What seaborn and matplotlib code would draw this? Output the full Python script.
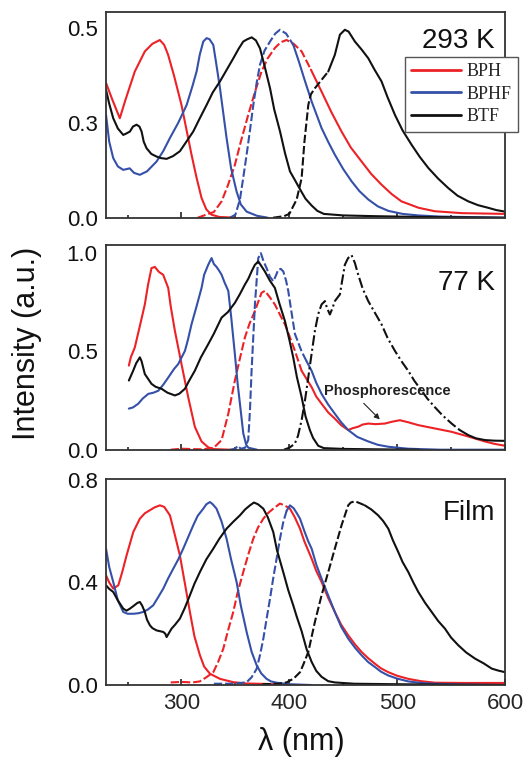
import numpy as np
import pandas as pd
import matplotlib
matplotlib.use("Agg")
import matplotlib.pyplot as plt
from matplotlib.lines import Line2D
import seaborn as sns

# ---------------- data (wavelength nm, intensity a.u.) ----------------
# 293 K
red_abs_293_x = [230, 236, 242.8, 248, 256.7, 266, 273, 279.9, 284, 287.6, 293, 300, 309.3, 314, 318.6, 323, 327.8, 335, 350]
red_abs_293_y = [0.355, 0.31, 0.262, 0.31, 0.385, 0.438, 0.458, 0.468, 0.455, 0.429, 0.375, 0.297, 0.166, 0.105, 0.052, 0.022, 0.008, 0.002, 0.0]
red_em_293_x = [315, 330, 337.2, 343, 349.5, 355, 361.9, 368, 374.2, 380, 386.6, 392, 397.4, 404, 411.4, 420, 429.9, 439, 448.4, 457, 467, 476, 485.5, 495, 504, 520, 535, 560, 600]
red_em_293_y = [0.0, 0.015, 0.043, 0.085, 0.139, 0.2, 0.271, 0.33, 0.385, 0.42, 0.447, 0.462, 0.468, 0.458, 0.438, 0.39, 0.332, 0.278, 0.227, 0.185, 0.148, 0.115, 0.087, 0.062, 0.043, 0.026, 0.017, 0.012, 0.01]
blue_abs_293_x = [230, 233, 236.7, 241, 246, 252, 256, 261.4, 268, 276.9, 283, 289.3, 297, 304.8, 310, 314, 317, 320.2, 323.3, 326, 329.5, 332, 335.7, 341.8, 346, 351.1, 355, 360.4, 370, 380]
blue_abs_293_y = [0.271, 0.2, 0.157, 0.135, 0.126, 0.13, 0.118, 0.113, 0.122, 0.148, 0.175, 0.21, 0.25, 0.297, 0.345, 0.385, 0.43, 0.464, 0.473, 0.47, 0.455, 0.41, 0.341, 0.21, 0.13, 0.069, 0.035, 0.016, 0.005, 0.0]
blue_em_293_x = [345, 350, 354.2, 357, 360.4, 363.5, 366.6, 369.7, 372.8, 377, 382.1, 387, 391.3, 397, 403.7, 409, 414.5, 420.7, 429.9, 436, 442.2, 450, 457.7, 465, 473.2, 482, 491.8, 505, 519.6, 540, 600]
blue_em_293_y = [0.0, 0.008, 0.048, 0.1, 0.166, 0.23, 0.297, 0.355, 0.403, 0.44, 0.464, 0.485, 0.495, 0.485, 0.455, 0.41, 0.36, 0.306, 0.236, 0.2, 0.166, 0.128, 0.096, 0.07, 0.048, 0.03, 0.018, 0.01, 0.006, 0.003, 0.0]
black_abs_293_x = [230, 233, 236.7, 241, 246, 249, 252.2, 255, 258.3, 261, 263, 265, 267.6, 272, 276.9, 281, 286.2, 292, 298.5, 304, 310.9, 317, 323.3, 329, 335.7, 342, 348.1, 353, 357.3, 361, 365.1, 369, 372.8, 377, 382.1, 386, 391.4, 396, 400.6, 405, 409.9, 415, 420.7, 426, 432, 450, 480, 520, 600]
black_abs_293_y = [0.337, 0.3, 0.262, 0.235, 0.218, 0.222, 0.227, 0.24, 0.245, 0.24, 0.227, 0.2, 0.183, 0.168, 0.161, 0.157, 0.155, 0.162, 0.175, 0.198, 0.227, 0.262, 0.297, 0.33, 0.359, 0.39, 0.42, 0.445, 0.464, 0.47, 0.475, 0.467, 0.446, 0.4, 0.341, 0.285, 0.227, 0.17, 0.122, 0.1, 0.075, 0.05, 0.032, 0.018, 0.01, 0.006, 0.004, 0.002, 0.0]
black_em_293_x = [385, 395, 400, 406.8, 411.4, 414, 417.6, 420, 423.7, 429.9, 436.1, 442.2, 446.9, 451.5, 455, 460.8, 467, 473.2, 479, 485.5, 491, 497.9, 505, 513.4, 521, 528.9, 538, 547.4, 556, 566, 575, 584.5, 592, 600]
black_em_293_y = [0.0, 0.004, 0.01, 0.048, 0.104, 0.2, 0.297, 0.325, 0.341, 0.363, 0.385, 0.429, 0.482, 0.495, 0.49, 0.464, 0.443, 0.42, 0.39, 0.359, 0.318, 0.271, 0.23, 0.192, 0.16, 0.131, 0.103, 0.078, 0.058, 0.043, 0.033, 0.026, 0.02, 0.016]

# 77 K
red_abs_77_x = [251.2, 253, 256.7, 261, 266, 269, 272.2, 275.3, 279, 283, 287.7, 290, 293.9, 300, 306.2, 312.4, 318.6, 324.8, 330, 345]
red_abs_77_y = [0.428, 0.47, 0.52, 0.62, 0.739, 0.84, 0.924, 0.93, 0.905, 0.89, 0.823, 0.73, 0.604, 0.436, 0.268, 0.116, 0.042, 0.012, 0.003, 0.0]
red_em_77_x = [290, 300, 310, 320, 330, 337.2, 343.4, 349.5, 354, 358.8, 363, 368.1, 374.2, 377.3, 382, 386.6, 391, 395.9, 400, 405.2, 411.4, 416, 420.7, 425, 429.9, 436, 442.2, 448, 454.6, 459, 463.9, 468, 473.2, 480, 488.6, 495, 502.5, 510, 519.6, 535, 550.5, 566, 581.4, 590, 600]
red_em_77_y = [0.0, 0.005, 0.003, 0.002, 0.01, 0.049, 0.183, 0.352, 0.46, 0.571, 0.64, 0.706, 0.798, 0.808, 0.775, 0.739, 0.69, 0.638, 0.58, 0.503, 0.401, 0.36, 0.318, 0.27, 0.234, 0.19, 0.158, 0.125, 0.1, 0.11, 0.117, 0.128, 0.133, 0.13, 0.133, 0.142, 0.15, 0.14, 0.125, 0.108, 0.091, 0.067, 0.042, 0.03, 0.02]
blue_abs_77_x = [251.2, 255, 259.9, 264, 269.2, 274, 278.5, 283, 287.7, 293, 297, 303.2, 306, 309.3, 314, 318.6, 321, 324.8, 327.9, 330, 332.5, 335, 337.2, 340, 343.4, 346, 349.5, 352, 354.2, 357.3, 360, 362, 370]
blue_abs_77_y = [0.209, 0.215, 0.234, 0.26, 0.284, 0.29, 0.3, 0.33, 0.367, 0.41, 0.436, 0.503, 0.56, 0.638, 0.73, 0.823, 0.89, 0.941, 0.975, 0.945, 0.93, 0.91, 0.89, 0.85, 0.808, 0.68, 0.487, 0.34, 0.234, 0.083, 0.025, 0.01, 0.0]
blue_em_77_x = [345, 350, 352, 355, 359, 361.9, 363.5, 365, 368.1, 371.2, 373.6, 376, 378.9, 382, 385.1, 387.5, 389.7, 392, 394.4, 397, 399, 402, 405.2, 411.4, 416, 420.7, 425, 429.9, 436, 442.2, 448, 454.6, 463, 473.2, 482, 491.8, 510, 540, 600]
blue_em_77_y = [0.0, 0.005, 0.02, 0.005, 0.01, 0.05, 0.2, 0.402, 0.739, 0.975, 1.0, 0.96, 0.924, 0.88, 0.857, 0.885, 0.916, 0.92, 0.907, 0.86, 0.808, 0.7, 0.589, 0.5, 0.45, 0.401, 0.34, 0.284, 0.23, 0.183, 0.14, 0.1, 0.065, 0.042, 0.025, 0.015, 0.005, 0.0, 0.0]
black_abs_77_x = [251.2, 255.2, 258, 261.4, 263, 266, 272.2, 276, 281.5, 287, 293.9, 298, 303.2, 307, 312.4, 318, 324.8, 330, 337.2, 343, 349.5, 354, 358.8, 362, 365, 368, 371.2, 374, 377.3, 382, 386.6, 391, 395.9, 400, 403.6, 407, 411.4, 415, 419.1, 422, 426.8, 432, 450, 480, 520]
black_abs_77_y = [0.352, 0.402, 0.44, 0.47, 0.45, 0.385, 0.335, 0.32, 0.31, 0.29, 0.276, 0.285, 0.31, 0.35, 0.402, 0.47, 0.537, 0.59, 0.672, 0.7, 0.747, 0.79, 0.84, 0.87, 0.907, 0.94, 0.958, 0.935, 0.907, 0.86, 0.823, 0.74, 0.655, 0.56, 0.47, 0.37, 0.268, 0.17, 0.099, 0.06, 0.02, 0.008, 0.004, 0.002, 0.0]
black_em_77_x = [395, 400, 405, 408, 411.4, 414.5, 417.6, 420.7, 423.7, 426.8, 429.9, 433, 435, 437.6, 440, 442.2, 446.9, 449, 451.5, 454.5, 457.7, 460.8, 463.9, 468, 473.2, 479, 485.5, 491, 497.9, 504, 510.3, 516, 522.7, 528, 535, 542, 550.5, 558, 566, 573, 581.4, 590, 600]
black_em_77_y = [0.0, 0.01, 0.03, 0.07, 0.15, 0.25, 0.369, 0.49, 0.604, 0.69, 0.739, 0.756, 0.72, 0.688, 0.72, 0.756, 0.79, 0.86, 0.941, 0.975, 0.99, 0.95, 0.89, 0.82, 0.756, 0.7, 0.638, 0.57, 0.503, 0.45, 0.401, 0.35, 0.3, 0.26, 0.216, 0.175, 0.133, 0.1, 0.074, 0.058, 0.049, 0.046, 0.045]

# Film
red_abs_film_x = [230, 233, 236.7, 241.4, 245, 249.1, 255.3, 261.4, 266, 270.7, 275, 280, 284, 289.3, 293, 298.5, 303, 307.8, 312, 317.1, 321, 326.4, 335.7, 348, 360, 380, 400]
red_abs_film_y = [0.428, 0.4, 0.376, 0.389, 0.44, 0.506, 0.597, 0.649, 0.67, 0.682, 0.693, 0.701, 0.695, 0.662, 0.6, 0.506, 0.4, 0.285, 0.19, 0.116, 0.072, 0.044, 0.024, 0.011, 0.006, 0.004, 0.0]
red_em_film_x = [290, 300, 310, 317, 323, 329.5, 334, 338.8, 343, 348, 352, 357.3, 362, 366.6, 371, 375.9, 380, 385.1, 391.3, 396, 400.6, 405, 409.9, 414, 420.7, 425, 429.9, 436, 442.2, 448, 454.6, 461, 467, 473, 479.4, 485, 491.8, 500, 510.3, 522, 535, 560, 600]
red_em_film_y = [0.01, 0.012, 0.01, 0.014, 0.03, 0.05, 0.09, 0.142, 0.21, 0.285, 0.36, 0.441, 0.51, 0.571, 0.615, 0.649, 0.67, 0.688, 0.708, 0.7, 0.688, 0.655, 0.61, 0.56, 0.493, 0.445, 0.402, 0.34, 0.285, 0.236, 0.194, 0.158, 0.129, 0.105, 0.083, 0.065, 0.05, 0.036, 0.024, 0.015, 0.009, 0.008, 0.008]
blue_abs_film_x = [230, 233, 236.7, 241, 246, 250, 255.3, 260, 264.5, 269, 273.8, 278, 283.1, 287.5, 292.4, 297, 301.6, 306, 310.9, 315, 320.2, 323, 326.4, 329, 332.5, 337, 341.8, 346, 351.1, 355, 360.4, 365, 369.7, 374, 378.9, 383, 388.2, 400, 420]
blue_abs_film_y = [0.532, 0.46, 0.402, 0.33, 0.285, 0.278, 0.278, 0.28, 0.285, 0.295, 0.311, 0.34, 0.376, 0.415, 0.454, 0.49, 0.532, 0.575, 0.623, 0.66, 0.688, 0.705, 0.714, 0.705, 0.688, 0.64, 0.571, 0.49, 0.402, 0.31, 0.207, 0.13, 0.077, 0.045, 0.024, 0.014, 0.009, 0.003, 0.0]
blue_em_film_x = [330, 345, 355, 360.4, 365, 369.7, 373, 375.9, 379, 382.1, 385, 388.2, 391.3, 394.4, 397.5, 400.6, 404, 407, 409.9, 414, 417.6, 420.7, 425, 429.9, 436, 442.2, 448, 454.6, 461, 467, 473, 479.4, 485, 491.8, 500, 510.3, 522, 535, 560, 600]
blue_em_film_y = [0.005, 0.005, 0.008, 0.011, 0.03, 0.063, 0.12, 0.181, 0.26, 0.337, 0.415, 0.493, 0.57, 0.636, 0.68, 0.701, 0.69, 0.67, 0.649, 0.6, 0.56, 0.532, 0.47, 0.415, 0.35, 0.285, 0.228, 0.181, 0.145, 0.116, 0.09, 0.07, 0.052, 0.037, 0.025, 0.014, 0.008, 0.005, 0.002, 0.0]
black_abs_film_x = [230, 233, 236.7, 241, 246, 249, 252.2, 256, 259, 261.4, 263.5, 266, 268, 270.7, 273, 276.9, 280, 283.1, 285, 286.2, 288, 290.8, 294, 298.5, 303, 307.8, 312, 317.1, 323, 329.5, 335, 341.8, 348, 354.2, 359, 363.5, 367.2, 371, 375.9, 380, 385.1, 388.5, 394.4, 399, 403.7, 407, 411.4, 416, 420.7, 425, 429.9, 436, 442.2, 460, 500, 600]
black_abs_film_y = [0.389, 0.375, 0.363, 0.33, 0.298, 0.29, 0.298, 0.31, 0.32, 0.324, 0.31, 0.285, 0.255, 0.233, 0.222, 0.213, 0.21, 0.207, 0.2, 0.187, 0.2, 0.22, 0.235, 0.259, 0.3, 0.35, 0.395, 0.441, 0.49, 0.532, 0.57, 0.61, 0.637, 0.662, 0.685, 0.701, 0.712, 0.705, 0.688, 0.655, 0.597, 0.527, 0.44, 0.37, 0.31, 0.265, 0.21, 0.14, 0.09, 0.055, 0.032, 0.015, 0.01, 0.005, 0.003, 0.0]
black_em_film_x = [375, 390, 397.4, 404, 409.9, 413, 417.6, 423.7, 429.9, 436.1, 442.2, 448.4, 454.6, 457, 460.8, 465, 470, 476, 482.4, 487, 491.8, 496, 501, 505, 510.3, 515, 519.6, 526, 532, 538, 544.3, 550, 556.7, 564, 572.2, 580, 587.7, 594, 600]
black_em_film_y = [0.003, 0.005, 0.01, 0.025, 0.05, 0.08, 0.129, 0.246, 0.35, 0.441, 0.532, 0.623, 0.701, 0.712, 0.717, 0.71, 0.701, 0.685, 0.662, 0.64, 0.61, 0.565, 0.519, 0.48, 0.441, 0.4, 0.363, 0.32, 0.285, 0.25, 0.22, 0.185, 0.155, 0.127, 0.103, 0.085, 0.064, 0.056, 0.05]

compounds = ["BPH", "BPHF", "BTF"]
panel_labels = ["293 K", "77 K", "Film"]
ytick_values = [[0.0, 0.25, 0.5], [0.0, 0.5, 1.0], [0.0, 0.4, 0.8]]
ytick_labels = [["0.0", "0.3", "0.5"], ["0.0", "0.5", "1.0"], ["0.0", "0.4", "0.8"]]
xtick_major = [300, 400, 500, 600]
xtick_minor = [250, 350, 450, 550]

# ---------------- style ----------------
sns.set_theme(style="white")
plt.rcParams["font.family"] = ["Liberation Sans", "DejaVu Sans"]

RED, BLUE, BLACK = "#ec2227", "#3550a8", "#111111"
LW = 1.5
colors = {"BPH": RED, "BPHF": BLUE, "BTF": BLACK}

fig = plt.figure(figsize=(5.26, 7.59), dpi=100)
W, H = 526.0, 759.0
left, right = 106, 505
panels_px = [(12.3, 217.7), (244.7, 449.7), (478.7, 685.0)]
ylims = [0.541, 1.043, 0.805]
axes = []
for (top, bot) in panels_px:
    ax = fig.add_axes([left / W, 1 - bot / H, (right - left) / W, (bot - top) / H])
    axes.append(ax)


def draw(ax, x, y, color, split=None, dash=(0, (4, 1.4))):
    x = np.asarray(x, float)
    y = np.asarray(y, float)
    if split is None:
        df = pd.DataFrame({"x": x, "y": y})
        sns.lineplot(data=df, x="x", y="y", ax=ax, color=color, lw=LW,
                     estimator=None, sort=False)
        return
    m1 = x <= split
    xs = x[m1][-1]
    m2 = x >= xs
    d1 = pd.DataFrame({"x": x[m1], "y": y[m1]})
    d2 = pd.DataFrame({"x": x[m2], "y": y[m2]})
    sns.lineplot(data=d1, x="x", y="y", ax=ax, color=color, lw=LW,
                 estimator=None, sort=False, linestyle=dash)
    sns.lineplot(data=d2, x="x", y="y", ax=ax, color=color, lw=LW,
                 estimator=None, sort=False)


panel_data = [
    [(red_abs_293_x, red_abs_293_y, RED, None), (red_em_293_x, red_em_293_y, RED, 425),
     (blue_abs_293_x, blue_abs_293_y, BLUE, None), (blue_em_293_x, blue_em_293_y, BLUE, 405),
     (black_abs_293_x, black_abs_293_y, BLACK, None), (black_em_293_x, black_em_293_y, BLACK, 440)],
    [(red_abs_77_x, red_abs_77_y, RED, None), (red_em_77_x, red_em_77_y, RED, 412),
     (blue_abs_77_x, blue_abs_77_y, BLUE, None), (blue_em_77_x, blue_em_77_y, BLUE, 420),
     (black_abs_77_x, black_abs_77_y, BLACK, None), (black_em_77_x, black_em_77_y, BLACK, 560)],
    [(red_abs_film_x, red_abs_film_y, RED, None), (red_em_film_x, red_em_film_y, RED, 402),
     (blue_abs_film_x, blue_abs_film_y, BLUE, None), (blue_em_film_x, blue_em_film_y, BLUE, 400),
     (black_abs_film_x, black_abs_film_y, BLACK, None), (black_em_film_x, black_em_film_y, BLACK, 472)],
]

label_pos = [(0.975, 0.825), (0.975, 0.78), (0.975, 0.80)]

for i, ax in enumerate(axes):
    for (x, y, c, split) in panel_data[i]:
        dash = (0, (4, 1.4))
        if i == 1 and c == BLACK and split is not None:
            dash = (0, (5, 1.5, 1, 1.5))
        draw(ax, x, y, c, split, dash)
    ax.set_xlim(230, 600)
    ax.set_ylim(0, ylims[i])
    ax.set_xticks(xtick_major)
    ax.set_xticks(xtick_minor, minor=True)
    ax.set_yticks(ytick_values[i], labels=ytick_labels[i])
    ax.set_xlabel("")
    ax.set_ylabel("")
    ax.tick_params(axis="x", which="major", direction="in", length=4.5, width=1.2,
                   bottom=True, top=False, color="#222", labelsize=16, pad=6)
    ax.tick_params(axis="x", which="minor", direction="in", length=2.5, width=1.2,
                   bottom=True, top=False, color="#222")
    ax.tick_params(axis="y", which="both", length=0, left=True, labelsize=16, pad=6,
                   labelcolor="#111")
    if i < 2:
        ax.tick_params(axis="x", labelbottom=False)
    for sp in ax.spines.values():
        sp.set_linewidth(1.3)
        sp.set_color("#333")
    ax.text(label_pos[i][0], label_pos[i][1], panel_labels[i], transform=ax.transAxes,
            ha="right", va="baseline", fontsize=20, color="#111")

# legend in top panel
handles = [Line2D([0], [0], color=colors[c], lw=2) for c in compounds]
leg = axes[0].legend(handles, compounds, loc="upper right", bbox_to_anchor=(1.033, 0.782),
                     borderaxespad=0, frameon=True, fancybox=False, framealpha=1,
                     edgecolor="#555", prop={"family": "Liberation Serif", "size": 13},
                     handlelength=2.8, handletextpad=0.3, labelspacing=0.3, borderpad=0.35)
leg.get_frame().set_linewidth(1.0)

# phosphorescence annotation
ax2 = axes[1]
ax2.text(490.7, 0.30, "Phosphorescence", ha="center", va="center", fontsize=10.5,
         fontweight="bold", color="#222")
ax2.annotate("", xy=(485.7, 0.144), xytext=(467.2, 0.246),
             arrowprops=dict(arrowstyle="-|>", color="#222", lw=0.8, mutation_scale=8))

# axis labels
ax2.set_ylabel("Intensity (a.u.)", fontsize=22, color="#111")
ax2.yaxis.set_label_coords(-0.16, 0.52)
axes[2].set_xlabel("λ (nm)", fontsize=22, color="#111")
axes[2].xaxis.set_label_coords(0.49, -0.204)

fig.savefig("out.png", dpi=100)
